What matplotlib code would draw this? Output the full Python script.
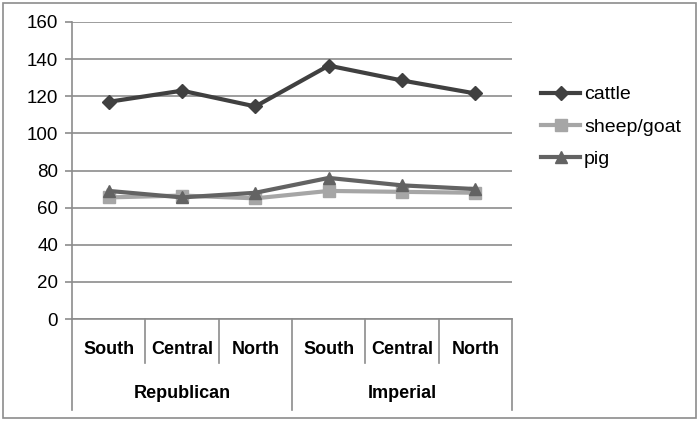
import numpy as np
import matplotlib
matplotlib.use("Agg")
from matplotlib import pyplot as plt
from matplotlib.patches import Rectangle

plt.rcParams['font.family'] = ['Liberation Sans', 'DejaVu Sans']

regions = ["South", "Central", "North", "South", "Central", "North"]
periods = ["Republican", "Imperial"]
cattle = [117, 123, 114.5, 136.5, 128.5, 121.5]
sheep_goat = [65.5, 66.5, 65, 69, 68.5, 68]
pig = [69, 65.5, 68, 76, 72, 70]

fig = plt.figure(figsize=(7, 4.22), dpi=100)
ax = fig.add_axes([72/700, 1-319/422, 440/700, 297/422])

x = np.arange(len(regions))
grid_c = '#8c8c8c'

ax.plot(x, cattle, color='#404040', lw=3, marker='D', ms=7.5, label='cattle', zorder=4)
ax.plot(x, sheep_goat, color='#a6a6a6', lw=3, marker='s', ms=8, label='sheep/goat', zorder=3)
ax.plot(x, pig, color='#636363', lw=3, marker='^', ms=8, label='pig', zorder=5)

ax.set_xlim(-0.5, 5.5)
ax.set_ylim(0, 160)
ax.set_yticks(np.arange(0, 161, 20))
ax.yaxis.grid(True, color=grid_c, lw=1.2)
ax.set_axisbelow(True)
ax.set_xticks([])
for s in ['top', 'right']:
    ax.spines[s].set_visible(False)
ax.spines['left'].set_color(grid_c)
ax.spines['bottom'].set_color(grid_c)
ax.spines['left'].set_linewidth(1.2)
ax.spines['bottom'].set_linewidth(1.2)
ax.tick_params(axis='y', length=5, color=grid_c, width=1.2, labelsize=13.5, pad=5)

# multi-level category axis
trans = ax.get_xaxis_transform()
px = 1 / 297
for i in range(len(regions) + 1):
    xp = i - 0.5
    depth = -91 * px if i % 3 == 0 else -44 * px
    ax.plot([xp, xp], [0, depth], transform=trans, color=grid_c, lw=1.2, clip_on=False)
for i, r in enumerate(regions):
    ax.text(i, -30 * px, r, transform=trans, ha='center', va='center',
            fontsize=13, fontweight='bold')
for j, p in enumerate(periods):
    ax.text(j * 3 + 1, -74 * px, p, transform=trans, ha='center', va='center',
            fontsize=13, fontweight='bold')

ax.legend(loc='center left', bbox_to_anchor=(1.027, 0.647), frameon=False,
          fontsize=14, handlelength=2.0, labelspacing=0.75, handletextpad=0.2)

fig.patches.append(Rectangle((3/700, 4/422), 693/700, 415/422, transform=fig.transFigure,
                             fill=False, edgecolor='#8c8c8c', lw=1.2))

fig.savefig("out.png", dpi=100)
